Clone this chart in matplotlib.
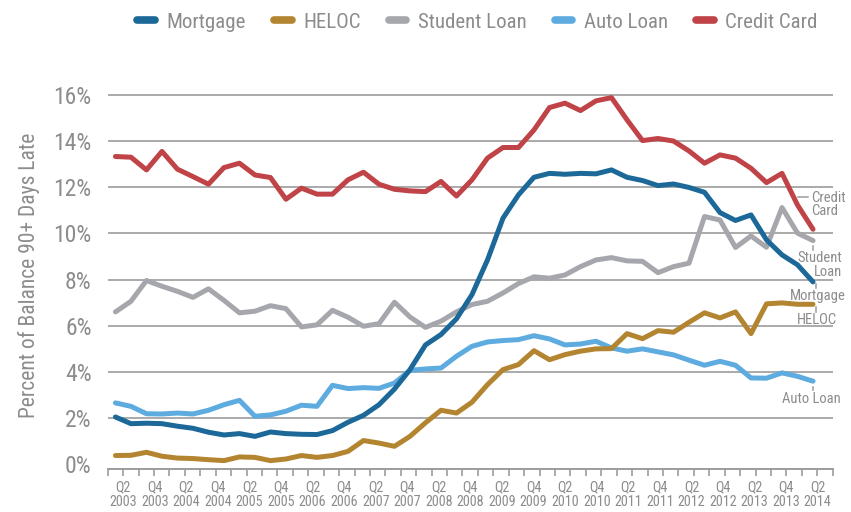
import numpy as np
import matplotlib
matplotlib.use("Agg")
import matplotlib.pyplot as plt
from matplotlib.lines import Line2D
from matplotlib.transforms import Affine2D

plt.rcParams["font.family"] = ["Roboto Condensed", "Liberation Sans Narrow", "Roboto", "DejaVu Sans"]

# quarterly, Q1 2003 .. Q2 2014
mortgage = [2.05, 1.76, 1.78, 1.76, 1.65, 1.56, 1.39, 1.27, 1.33, 1.21,
            1.40, 1.33, 1.30, 1.29, 1.46, 1.82, 2.12, 2.58, 3.26, 4.10,
            5.17, 5.62, 6.30, 7.35, 8.85, 10.66, 11.67, 12.43, 12.60, 12.56,
            12.60, 12.58, 12.75, 12.43, 12.29, 12.07, 12.14, 11.99, 11.78, 10.90,
            10.56, 10.80, 9.72, 9.07, 8.64, 7.90]
heloc = [0.38, 0.39, 0.52, 0.35, 0.27, 0.25, 0.20, 0.16, 0.32, 0.30,
         0.16, 0.23, 0.38, 0.30, 0.38, 0.56, 1.03, 0.92, 0.78, 1.21,
         1.80, 2.34, 2.22, 2.69, 3.45, 4.10, 4.32, 4.92, 4.53, 4.75,
         4.90, 5.00, 5.01, 5.66, 5.44, 5.79, 5.72, 6.15, 6.56, 6.34,
         6.60, 5.66, 6.95, 6.99, 6.93, 6.93]
student = [6.60, 7.06, 7.96, 7.71, 7.49, 7.23, 7.60, 7.10, 6.56, 6.63,
           6.87, 6.74, 5.95, 6.04, 6.67, 6.37, 5.98, 6.09, 7.02, 6.38,
           5.93, 6.20, 6.60, 6.92, 7.06, 7.42, 7.83, 8.12, 8.06, 8.20,
           8.56, 8.85, 8.95, 8.81, 8.79, 8.30, 8.56, 8.71, 10.73, 10.58,
           9.39, 9.89, 9.40, 11.12, 10.01, 9.69]
auto = [2.66, 2.51, 2.19, 2.18, 2.22, 2.18, 2.34, 2.58, 2.77, 2.08,
        2.14, 2.30, 2.56, 2.51, 3.42, 3.28, 3.32, 3.29, 3.52, 4.07,
        4.13, 4.17, 4.68, 5.11, 5.30, 5.36, 5.40, 5.57, 5.43, 5.17,
        5.21, 5.33, 5.04, 4.90, 5.00, 4.87, 4.74, 4.51, 4.29, 4.46,
        4.29, 3.74, 3.73, 3.96, 3.81, 3.60]
credit = [13.33, 13.30, 12.75, 13.55, 12.78, 12.46, 12.13, 12.85, 13.04, 12.53,
          12.42, 11.48, 11.96, 11.70, 11.70, 12.32, 12.65, 12.13, 11.91, 11.84,
          11.81, 12.25, 11.62, 12.32, 13.26, 13.72, 13.72, 14.48, 15.45, 15.64,
          15.32, 15.74, 15.88, 14.92, 14.02, 14.11, 14.00, 13.57, 13.04, 13.40,
          13.26, 12.82, 12.20, 12.60, 11.23, 10.18]

tick_labels = [f"Q{q}\n{y}" for y in range(2003, 2015) for q in (2, 4)][:23]
yticks = [0, 2, 4, 6, 8, 10, 12, 14, 16]

series = [
    ("Student Loan", student, "#a6a7ac", 2.0),
    ("Auto Loan", auto, "#5eabe0", 2.1),
    ("HELOC", heloc, "#b48530", 2.2),
    ("Mortgage", mortgage, "#1c6898", 2.3),
    ("Credit Card", credit, "#bf4347", 2.4),
]
legend_order = ["Mortgage", "HELOC", "Student Loan", "Auto Loan", "Credit Card"]

TXT = "#8c8c8c"
GRID = "#9c9c9c"

fig = plt.figure(figsize=(8.51, 5.12), dpi=100)
ax = fig.add_axes([107.7 / 851, 43.3 / 512, 725.0 / 851, 387.7 / 512])

x = np.arange(len(mortgage))
for name, vals, col, z in series:
    ax.plot(x, vals, color=col, lw=3.6, zorder=z, solid_joinstyle="round",
            solid_capstyle="round", clip_on=False)

ax.set_xlim(-0.5, 46.27)
ax.set_ylim(-0.19, 16.6)

for v in yticks[1:]:
    ax.axhline(v, color=GRID, lw=1.2, zorder=1)

ax.set_yticks(yticks)
ax.set_yticklabels([f"{v}%" for v in yticks])
ax.tick_params(axis="y", length=0, pad=11.5, labelsize=17, labelcolor=TXT)

ax.set_xticks(np.linspace(0.5, 45.3, len(tick_labels)))
ax.set_xticklabels(tick_labels, linespacing=1.05)
ax.set_xticks(np.linspace(-0.5, 46.27, 48), minor=True)
ax.tick_params(axis="x", which="major", length=0, pad=8.5, labelsize=10.2, labelcolor=TXT)
ax.tick_params(axis="x", which="minor", length=5, width=1.2, color=GRID)

for s in ["top", "right", "left"]:
    ax.spines[s].set_visible(False)
ax.spines["bottom"].set_color(GRID)
ax.spines["bottom"].set_linewidth(1.4)

ax.set_ylabel("Percent of Balance 90+ Days Late", fontsize=15.5, color=TXT, labelpad=10)

# end labels, offsets in pixels from the last point
last = x[-1]
end_labels = {
    "Credit Card": ("Credit\nCard", (-2, 25), "left", [(-15, 32), (-5, 32)]),
    "Student Loan": ("Student\nLoan", (29.5, -24.5), "right", [(0, -5.5), (0, -9.5)]),
    "Mortgage": ("Mortgage", (5, -14), "center", [(3, -2.5), (3, -6)]),
    "HELOC": ("HELOC", (4, -15.6), "center", [(2.5, -3), (2.5, -7.5)]),
    "Auto Loan": ("Auto Loan", (-2, -18), "center", [(0, -6), (0, -9)]),
}
for name, vals, col, z in series:
    text, off, ha, seg = end_labels[name]
    ax.annotate(text, xy=(last, vals[-1]), xytext=off, textcoords="offset pixels",
                ha=ha, va="center", fontsize=10.5, color=TXT, linespacing=0.95,
                annotation_clip=False)
    px, py = ax.transData.transform((last, vals[-1]))
    ax.plot([p[0] for p in seg], [p[1] for p in seg], color=GRID, lw=1.1,
            transform=Affine2D().translate(px, py), clip_on=False)

handles = []
for name in legend_order:
    col = [s[2] for s in series if s[0] == name][0]
    handles.append(Line2D([0], [0], color=col, lw=5.5, solid_capstyle="round"))
leg = fig.legend(handles, legend_order, loc="center", bbox_to_anchor=(0.561, 1 - 22 / 512),
                 ncol=5, frameon=False, fontsize=15, handlelength=0.85, handletextpad=0.55,
                 columnspacing=1.35)
for t in leg.get_texts():
    t.set_color(TXT)

fig.savefig("out.png", dpi=100)
